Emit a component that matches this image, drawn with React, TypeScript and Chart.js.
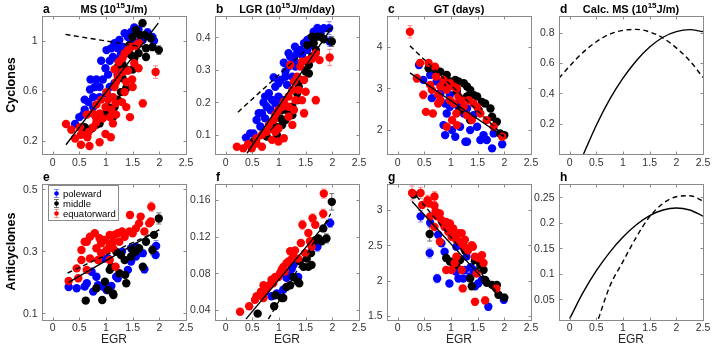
import React, { useEffect, useRef } from "react";
import { Chart, registerables } from "chart.js";
Chart.register(...registerables);

type P = number[];

// ---------- shared ticks ----------
const egrTicks = [0, 0.5, 1, 1.5, 2, 2.5];
const aYTicks = [0.2, 0.6, 1];
const bYTicks = [0.1, 0.2, 0.3, 0.4];
const cYTicks = [2, 3, 4];
const dYTicks = [0.2, 0.4, 0.6, 0.8];
const eYTicks = [0.1, 0.3, 0.5];
const fYTicks = [0.04, 0.08, 0.12, 0.16];
const gYTicks = [1.5, 2, 2.5, 3];
const hYTicks = [0.05, 0.1, 0.15, 0.2, 0.25];

const legendLabels = ["poleward", "middle", "equatorward"];

// ---------- panel a: MS cyclones ----------
const aBlue: P[] = [[0.5,0.39],[0.57,0.41],[0.42,0.335],[0.6,0.53],[0.7,0.61],[0.71,0.69],[0.82,0.69],[0.79,0.63],[0.88,0.63],[0.94,0.69],[0.91,0.84,0.02],[0.99,0.78],[1.04,0.73],[1.07,0.84],[1.13,0.87],[1.1,0.94],[1.16,0.98],[1.22,0.94],[1.25,1.005],[1.31,0.95],[1.35,1.06],[1.41,1.03],[1.47,1.07],[1.53,1.105],[1.61,1.09],[1.78,1.065,0.03],[1.87,1.03],[1.9,1.0,0.04],[0.88,0.55],[0.76,0.55],[0.67,0.51],[1.01,0.58],[1.16,0.66],[1.07,0.63],[1.22,0.73],[1.28,0.89],[1.38,0.9],[1.47,0.98],[1.62,0.99],[1.69,1.005],[1.01,0.925],[1.22,0.85],[0.76,0.47],[0.6,0.45]];
const aBlack: P[] = [[1.685,1.14,0.03],[1.56,1.085],[1.73,1.045],[1.84,1.02],[1.99,0.925,0.035],[1.87,0.95,0.03],[1.75,0.94],[1.75,0.87],[1.61,0.9],[1.53,0.86],[1.5,0.77],[1.38,0.77],[1.31,0.7],[1.38,0.62],[1.28,0.59],[1.22,0.53],[1.16,0.47],[1.07,0.41],[1.04,0.47],[1.13,0.39],[0.99,0.42],[0.82,0.33],[0.73,0.3],[0.6,0.31],[0.88,0.34],[1.22,0.79],[1.31,0.81],[1.47,0.885],[1.44,0.965],[1.64,1.045],[1.5,1.03],[0.66,0.28]];
const aRed: P[] = [[0.25,0.335],[0.35,0.29],[0.51,0.31],[0.53,0.25],[0.42,0.22],[0.53,0.17],[0.69,0.16],[0.65,0.23],[0.67,0.27],[0.88,0.19],[0.99,0.255],[1.09,0.23],[0.76,0.31],[0.82,0.35],[0.64,0.41],[0.75,0.42],[0.81,0.39],[0.88,0.42],[0.94,0.38],[0.99,0.47],[1.04,0.53],[1.13,0.55],[1.18,0.5],[1.1,0.45],[1.07,0.39],[1.13,0.34],[1.19,0.41],[1.16,0.63],[1.19,0.67],[1.16,0.77],[1.24,0.83],[1.31,0.86],[1.35,0.9],[1.41,0.925],[1.47,0.95],[1.56,0.96],[1.62,0.98],[1.31,0.75],[1.38,0.67],[1.35,0.59],[1.3,0.51],[1.38,0.47],[1.45,0.39,0.02],[1.5,0.63],[1.49,0.69],[1.69,0.5,0.03],[1.93,0.75,0.05],[1.61,0.78,0.025],[1.53,0.82],[1.41,0.76],[1.22,0.71],[1.01,0.59],[0.91,0.53],[0.82,0.49]];
const aSolidX = [0.25, 1.98];
const aSolidY = [0.17, 1.14];
const aDashX = [0.24, 1.98];
const aDashY = [1.05, 0.93];

// ---------- panel b: LGR cyclones ----------
const bBlue: P[] = [[0.38,0.092],[0.46,0.105],[0.52,0.105],[0.58,0.146],[0.62,0.167],[0.71,0.2],[0.74,0.218],[0.81,0.228],[0.9,0.277,0.01],[0.93,0.248],[0.99,0.259],[1.03,0.269],[1.09,0.322],[1.12,0.295],[1.18,0.31],[1.21,0.34],[1.28,0.33],[1.3,0.371],[1.34,0.351],[1.4,0.361],[1.47,0.382],[1.53,0.392],[1.59,0.397],[1.65,0.417],[1.72,0.428,0.012],[1.78,0.412],[1.84,0.428],[1.94,0.428,0.02],[1.95,0.387,0.015],[0.65,0.126],[0.74,0.151],[0.84,0.177],[0.93,0.197],[0.99,0.218],[1.06,0.208],[0.87,0.208],[0.77,0.187],[0.68,0.167],[1.15,0.254],[1.25,0.279],[1.31,0.31],[1.4,0.32],[1.43,0.346],[1.53,0.361],[1.62,0.376],[1.18,0.351],[1.12,0.279]];
const bBlack: P[] = [[0.52,0.08],[0.71,0.105],[0.96,0.1],[0.93,0.126],[1.06,0.131],[1.03,0.151],[1.12,0.146],[1.15,0.177],[1.25,0.187],[1.34,0.207],[1.34,0.228],[1.37,0.248],[1.4,0.269],[1.5,0.295],[1.56,0.289],[1.56,0.315],[1.62,0.341],[1.69,0.361],[1.65,0.382],[1.62,0.402],[1.72,0.402],[1.78,0.402,0.01],[1.84,0.394],[1.99,0.387,0.015],[1.53,0.376],[1.25,0.161],[1.06,0.177],[0.84,0.12],[0.77,0.095]];
const bRed: P[] = [[0.21,0.064],[0.33,0.059],[0.42,0.072],[0.49,0.059],[0.58,0.074],[0.68,0.064],[0.58,0.09],[0.68,0.1],[0.77,0.11],[0.87,0.085],[0.99,0.08],[1.09,0.09],[0.93,0.11],[0.81,0.131],[0.9,0.146],[0.99,0.12],[0.93,0.162],[0.99,0.177],[1.06,0.187],[1.09,0.202],[1.18,0.187],[1.18,0.218],[1.25,0.238],[1.25,0.131],[1.18,0.156],[1.28,0.177],[1.31,0.207],[1.28,0.264],[1.34,0.279],[1.4,0.31],[1.37,0.238],[1.47,0.269],[1.5,0.233],[1.43,0.207],[1.47,0.167,0.012],[1.69,0.207,0.012],[1.53,0.33],[1.62,0.335,0.012],[1.69,0.351],[1.76,0.33],[1.95,0.338,0.025],[1.43,0.325],[1.21,0.315]];
const bSolidX = [0.4, 2.0];
const bSolidY = [0.044, 0.433];
const bDashX = [0.23, 2.0];
const bDashY = [0.17, 0.435];

// ---------- panel c: GT cyclones ----------
const cBlue: P[] = [[0.4,3.56,0.08],[0.48,3.2],[0.61,3.32],[0.7,3.4],[0.73,3.16],[0.64,2.76],[0.8,2.88],[0.89,2.63],[0.92,2.39],[0.98,2.55],[0.86,2.11],[0.89,1.87],[1.02,1.99],[1.08,1.83],[1.17,2.07],[1.27,1.71],[1.3,1.71],[1.36,1.99],[1.49,2.07],[1.55,1.75],[1.61,1.87],[1.67,1.75],[1.77,1.55],[1.8,1.91],[1.96,1.65],[1.14,2.55],[1.24,2.39],[1.3,2.51],[1.42,2.35],[1.17,2.71],[0.98,2.84]];
const cBlack: P[] = [[0.58,3.48],[0.72,3.44],[0.8,3.4],[0.92,3.32],[0.98,3.16],[1.08,3.2],[1.14,3.16],[1.24,3.12],[1.3,3.04],[1.36,2.96],[1.42,2.84],[1.49,2.8],[1.58,2.67],[1.64,2.63],[1.74,2.51],[1.77,2.31],[1.86,2.19],[1.92,1.91],[2.0,1.87,0.05],[1.17,2.47],[1.36,2.23],[1.11,2.92],[0.86,3.12],[1.3,2.8],[1.52,2.47]];
const cRed: P[] = [[0.23,4.36,0.15],[0.42,3.61,0.08],[0.36,3.24,0.1],[0.48,2.84,0.1],[0.58,3.61],[0.53,2.43],[0.66,2.39],[0.7,3.52],[0.72,3.28],[0.64,2.96],[0.8,2.71],[0.76,2.63],[0.92,2.96],[0.98,3.12],[1.05,3.04],[1.11,3.0],[0.98,2.71],[1.05,2.63],[1.14,2.8],[1.2,2.71],[1.24,2.55],[1.1,2.39],[1.02,2.23],[1.11,2.11],[0.92,2.07],[1.3,2.35],[1.33,2.71],[1.42,2.63],[1.49,2.55],[1.55,2.39],[1.67,2.23],[1.8,2.07],[1.96,1.83,0.06],[1.39,2.23],[0.8,3.04],[0.86,3.2],[0.76,2.84],[0.61,3.08]];
const cSolidX = [0.23, 1.99];
const cSolidY = [3.37, 1.83];
const cDashX = [0.23, 1.99];
const cDashY = [4.02, 1.85];

// ---------- panel d: calc MS cyclones ----------
const dSolidX = [0.26, 0.5, 0.75, 1, 1.25, 1.5, 1.75, 2, 2.25, 2.5];
const dSolidY = [0, 0.19, 0.36, 0.5, 0.615, 0.705, 0.77, 0.807, 0.82, 0.807];
const dDashX = [-0.2, 0, 0.25, 0.5, 0.75, 1, 1.25, 1.5, 1.75, 2, 2.25, 2.5];
const dDashY = [0.5, 0.58, 0.67, 0.74, 0.79, 0.815, 0.822, 0.805, 0.765, 0.7, 0.615, 0.505];

// ---------- panel e: MS anticyclones ----------
const eBlue: P[] = [[0.3,0.185],[0.45,0.181],[0.6,0.186],[0.64,0.197],[0.76,0.17],[0.85,0.191],[0.82,0.218],[0.73,0.234],[0.94,0.186],[1.01,0.175],[1.1,0.188],[1.19,0.218],[1.22,0.213],[0.96,0.277],[1.04,0.277],[1.47,0.267],[1.56,0.283],[1.69,0.294],[1.72,0.242,0.012],[1.93,0.288],[1.94,0.317,0.018],[1.3,0.299],[1.47,0.31],[1.56,0.315],[1.41,0.24]];
const eBlack: P[] = [[0.62,0.141],[0.82,0.181],[0.93,0.143],[0.98,0.202],[1.04,0.175],[1.13,0.164],[1.14,0.159],[1.07,0.24],[1.1,0.25],[1.25,0.229],[1.35,0.272],[1.38,0.197],[1.36,0.224],[1.47,0.283],[1.5,0.304],[1.56,0.299],[1.62,0.31],[1.69,0.25],[1.75,0.331],[1.87,0.304,0.015],[1.9,0.353],[1.99,0.406,0.018],[1.19,0.299],[1.28,0.288]];
const eRed: P[] = [[0.3,0.204],[0.45,0.245],[0.48,0.213],[0.54,0.272],[0.54,0.304],[0.64,0.331],[0.7,0.277],[0.79,0.358],[0.82,0.31],[0.85,0.272],[0.88,0.342],[0.91,0.326],[0.98,0.337],[1.01,0.304],[1.07,0.353],[1.07,0.272],[1.13,0.331],[1.16,0.353],[1.13,0.31],[1.22,0.358],[1.25,0.331],[1.3,0.364],[1.35,0.347],[1.44,0.364],[1.45,0.417,0.01],[1.5,0.358],[1.56,0.374],[1.62,0.39],[1.65,0.412],[1.72,0.364],[1.81,0.39],[1.85,0.444,0.015],[1.84,0.396],[0.7,0.347],[0.6,0.331],[0.64,0.24],[0.91,0.294],[1.07,0.32],[1.18,0.25]];
const eSolidX = [0.3, 2.0];
const eSolidY = [0.2, 0.37];
const eDashX = [0.28, 2.0];
const eDashY = [0.23, 0.368];

// ---------- panel f: LGR anticyclones ----------
const fBlue: P[] = [[0.86,0.055],[0.96,0.058],[1.08,0.062],[1.14,0.075],[1.21,0.078],[1.27,0.089],[1.36,0.076],[1.72,0.109,0.005],[1.96,0.135,0.005],[1.24,0.085],[0.74,0.06]];
const fBlack: P[] = [[0.6,0.036],[0.91,0.044],[1.05,0.053],[1.08,0.053],[1.14,0.065],[1.21,0.067],[1.35,0.071],[1.38,0.069],[1.39,0.093],[1.46,0.087],[1.55,0.087],[1.61,0.089],[1.52,0.096],[1.6,0.102],[1.68,0.116],[1.74,0.118],[1.8,0.115],[1.83,0.129],[1.89,0.118,0.005],[1.99,0.158,0.009],[1.27,0.076],[0.93,0.056]];
const fRed: P[] = [[0.27,0.038],[0.44,0.044],[0.55,0.051],[0.58,0.055],[0.64,0.056],[0.66,0.06],[0.71,0.053],[0.74,0.061],[0.79,0.065],[0.82,0.067],[0.86,0.073],[0.89,0.069],[0.93,0.076],[1.02,0.08],[1.05,0.084],[1.08,0.087],[1.11,0.082],[1.14,0.091],[1.18,0.093],[1.21,0.104],[1.23,0.095],[1.27,0.098],[1.3,0.105],[1.36,0.096],[1.41,0.113],[1.44,0.133,0.005],[1.49,0.102],[1.55,0.124],[1.58,0.115],[1.63,0.14,0.005],[1.68,0.133],[1.61,0.109],[1.83,0.145,0.005],[1.84,0.167,0.005],[0.99,0.076],[0.71,0.067]];
const fSolidX = [0.38, 1.93];
const fSolidY = [0.03, 0.138];
const fDashX = [0.8, 1.97];
const fDashY = [0.03, 0.145];

// ---------- panel g: GT anticyclones ----------
const gBlue: P[] = [[0.43,2.91,0.08],[0.61,2.82],[0.6,2.39,0.07],[0.74,2.03,0.06],[0.76,2.65],[0.82,2.53],[0.97,1.96],[0.88,2.41],[1.1,2.48],[1.09,2.13],[1.14,2.03],[1.23,2.03],[1.26,2.15],[1.36,2.06],[1.37,2.19],[1.45,1.92],[1.51,1.96],[1.58,2.01],[1.7,1.63,0.05],[1.99,1.73,0.05],[1.29,2.34],[1.42,2.15]];
const gBlack: P[] = [[0.3,3.22],[0.6,2.66,0.1],[0.91,2.32],[0.98,2.27],[1.04,2.25],[1.1,2.22],[1.17,2.29],[1.26,2.43],[1.36,2.03],[1.39,1.92],[1.45,2.29],[1.55,2.22],[1.64,2.01],[1.67,1.97],[1.77,1.94],[1.83,1.92],[1.86,1.94],[1.89,1.8],[2.0,1.76,0.05],[1.61,2.15]];
const gRed: P[] = [[0.27,3.24,0.1],[0.43,3.24,0.08],[0.46,3.07],[0.56,3.14,0.07],[0.59,3.09],[0.61,2.91],[0.69,3.19,0.07],[0.69,3.06],[0.71,2.98],[0.74,2.91],[0.79,2.95],[0.82,2.86],[0.85,2.81],[0.88,2.76],[0.91,2.83],[0.95,2.69],[0.98,2.81],[1.01,2.62],[1.04,2.74],[1.07,2.65],[1.1,2.58],[1.14,2.67],[1.17,2.55],[1.2,2.67],[1.23,2.5],[1.26,2.58],[1.29,2.46],[1.32,2.43],[1.39,2.5],[1.41,2.48],[1.45,2.34],[1.51,2.32],[1.58,2.36],[1.61,2.25],[1.48,2.1],[1.07,2.25],[0.91,2.15],[1.01,2.15],[1.22,1.89],[1.45,1.7,0.05],[1.64,1.72,0.05],[1.85,1.89],[1.1,2.34],[1.2,2.15],[0.79,2.55],[0.69,2.76]];
const gSolidX = [0.27, 1.97];
const gSolidY = [3.12, 1.72];
const gDashX = [0.35, 1.9];
const gDashY = [3.2, 1.8];

// ---------- panel h: calc MS anticyclones ----------
const hSolidX = [0, 0.25, 0.5, 0.75, 1, 1.25, 1.5, 1.75, 2, 2.25, 2.5];
const hSolidY = [0.012, 0.063, 0.106, 0.142, 0.172, 0.196, 0.214, 0.225, 0.229, 0.225, 0.213];
const hDashX = [0.54, 0.75, 1, 1.25, 1.5, 1.75, 2, 2.25, 2.5];
const hDashY = [0.012, 0.075, 0.124, 0.172, 0.212, 0.238, 0.251, 0.253, 0.243];

// ---------- rendering ----------
const W = 712, H = 349;
const FONT = '"Liberation Sans", Arial, Helvetica, sans-serif';
const BLUE = "#0000ff", BLACK = "#000000", RED = "#ff0000";

const zip = (xs: number[], ys: number[]) => xs.map((x, i) => ({ x, y: ys[i] }));

type Panel = {
  letter: string; L: number; T: number; R: number; B: number;
  xr: number[]; yr: number[]; yTicks: number[];
  title?: any[]; row?: string; xlabel?: boolean; legend?: boolean;
  series: { pts: P[]; color: string; err: string }[];
  lines: { x: number[]; y: number[]; dash: boolean }[];
};

const top = { T: 16, B: 154 };
const bot = { T: 183.5, B: 319.5 };
const cols = [42, 215, 387, 559];
const PW = 144;

const sets = (b: P[], k: P[], r: P[]) => [
  { pts: b, color: BLUE, err: "rgba(60,60,255,0.6)" },
  { pts: k, color: BLACK, err: "rgba(60,60,60,0.7)" },
  { pts: r, color: RED, err: "rgba(255,70,70,0.6)" },
];

const panels: Panel[] = [
  { letter: "a", L: cols[0], R: cols[0] + PW, ...top, xr: [-0.2, 2.5], yr: [0.096, 1.197], yTicks: aYTicks,
    title: [["MS (10"], ["15", 1], ["J/m)"]], row: "Cyclones",
    series: sets(aBlue, aBlack, aRed),
    lines: [{ x: aSolidX, y: aSolidY, dash: false }, { x: aDashX, y: aDashY, dash: true }] },
  { letter: "b", L: cols[1], R: cols[1] + PW, ...top, xr: [-0.2, 2.5], yr: [0.0417, 0.4654], yTicks: bYTicks,
    title: [["LGR (10"], ["15", 1], ["J/m/day)"]],
    series: sets(bBlue, bBlack, bRed),
    lines: [{ x: bSolidX, y: bSolidY, dash: false }, { x: bDashX, y: bDashY, dash: true }] },
  { letter: "c", L: cols[2], R: cols[2] + PW, ...top, xr: [-0.2, 2.5], yr: [1.414, 4.74], yTicks: cYTicks,
    title: [["GT (days)"]],
    series: sets(cBlue, cBlack, cRed),
    lines: [{ x: cSolidX, y: cSolidY, dash: false }, { x: cDashX, y: cDashY, dash: true }] },
  { letter: "d", L: cols[3], R: cols[3] + PW, ...top, xr: [-0.2, 2.5], yr: [0, 0.91], yTicks: dYTicks,
    title: [["Calc. MS (10"], ["15", 1], ["J/m)"]],
    series: [],
    lines: [{ x: dSolidX, y: dSolidY, dash: false }, { x: dDashX, y: dDashY, dash: true }] },
  { letter: "e", L: cols[0], R: cols[0] + PW, ...bot, xr: [-0.2, 2.5], yr: [0.08, 0.5187], yTicks: eYTicks,
    row: "Anticyclones", xlabel: true, legend: true,
    series: sets(eBlue, eBlack, eRed),
    lines: [{ x: eSolidX, y: eSolidY, dash: false }, { x: eDashX, y: eDashY, dash: true }] },
  { letter: "f", L: cols[1], R: cols[1] + PW, ...bot, xr: [-0.2, 2.5], yr: [0.0296, 0.178], yTicks: fYTicks,
    xlabel: true, series: sets(fBlue, fBlack, fRed),
    lines: [{ x: fSolidX, y: fSolidY, dash: false }, { x: fDashX, y: fDashY, dash: true }] },
  { letter: "g", L: cols[2], R: cols[2] + PW, ...bot, xr: [-0.2, 2.5], yr: [1.45, 3.375], yTicks: gYTicks,
    xlabel: true, series: sets(gBlue, gBlack, gRed),
    lines: [{ x: gSolidX, y: gSolidY, dash: false }, { x: gDashX, y: gDashY, dash: true }] },
  { letter: "h", L: cols[3], R: cols[3] + PW, ...bot, xr: [-0.2, 2.5], yr: [0.0104, 0.277], yTicks: hYTicks,
    xlabel: true, series: [],
    lines: [{ x: hSolidX, y: hSolidY, dash: false }, { x: hDashX, y: hDashY, dash: true }] },
];

function drawErrMark(ctx: CanvasRenderingContext2D, x: number, y1: number, y2: number, color: string) {
  ctx.strokeStyle = color;
  ctx.lineWidth = 1;
  ctx.beginPath();
  ctx.moveTo(x, y1); ctx.lineTo(x, y2);
  ctx.moveTo(x - 2.5, y1); ctx.lineTo(x + 2.5, y1);
  ctx.moveTo(x - 2.5, y2); ctx.lineTo(x + 2.5, y2);
  ctx.stroke();
}

function decor(p: Panel) {
  return {
    id: "decor" + p.letter,
    beforeDatasetsDraw(chart: any) {
      const ctx = chart.ctx as CanvasRenderingContext2D;
      const xs = chart.scales.x, ys = chart.scales.y;
      const a = chart.chartArea;
      ctx.save();
      ctx.beginPath();
      ctx.rect(a.left, a.top, a.right - a.left, a.bottom - a.top);
      ctx.clip();
      for (const s of p.series) {
        for (const pt of s.pts) {
          if (pt.length > 2 && pt[2]) {
            const px = xs.getPixelForValue(pt[0]);
            drawErrMark(ctx, px, ys.getPixelForValue(pt[1] - pt[2]), ys.getPixelForValue(pt[1] + pt[2]), s.err);
          }
        }
      }
      ctx.restore();
    },
    afterDraw(chart: any) {
      const ctx = chart.ctx as CanvasRenderingContext2D;
      const xs = chart.scales.x, ys = chart.scales.y;
      const L = Math.round(p.L) + 0.5, R = Math.round(p.R) + 0.5;
      const T = Math.round(p.T) + 0.5, B = Math.round(p.B) + 0.5;
      ctx.save();
      // frame
      ctx.strokeStyle = "#8a8a8a";
      ctx.lineWidth = 1;
      ctx.strokeRect(L, T, R - L, B - T);
      // ticks
      ctx.beginPath();
      for (const v of egrTicks) {
        const px = Math.round(xs.getPixelForValue(v)) + 0.5;
        ctx.moveTo(px, B); ctx.lineTo(px, B - 3);
        ctx.moveTo(px, T); ctx.lineTo(px, T + 3);
      }
      for (const v of p.yTicks) {
        const py = Math.round(ys.getPixelForValue(v)) + 0.5;
        ctx.moveTo(L, py); ctx.lineTo(L + 3, py);
        ctx.moveTo(R, py); ctx.lineTo(R - 3, py);
      }
      ctx.stroke();
      // tick labels
      ctx.fillStyle = "#333333";
      ctx.font = `10.5px ${FONT}`;
      ctx.textAlign = "center";
      ctx.textBaseline = "top";
      for (const v of egrTicks) ctx.fillText(String(v), xs.getPixelForValue(v), p.B + 3.5);
      ctx.textAlign = "right";
      ctx.textBaseline = "middle";
      for (const v of p.yTicks) ctx.fillText(String(v), p.L - 4.5, ys.getPixelForValue(v) + 0.5);
      // panel letter
      ctx.fillStyle = "#000";
      ctx.font = `bold 12px ${FONT}`;
      ctx.textAlign = "left";
      ctx.textBaseline = "alphabetic";
      ctx.fillText(p.letter, p.L + 1, p.T - 3);
      // title
      if (p.title) {
        let w = 0;
        for (const part of p.title) {
          ctx.font = part[1] ? `bold 8px ${FONT}` : `bold 11px ${FONT}`;
          w += ctx.measureText(part[0]).width;
        }
        let x = (p.L + p.R) / 2 - w / 2;
        for (const part of p.title) {
          ctx.font = part[1] ? `bold 8px ${FONT}` : `bold 11px ${FONT}`;
          ctx.fillText(part[0], x, part[1] ? p.T - 8 : p.T - 3);
          x += ctx.measureText(part[0]).width;
        }
      }
      // row label
      if (p.row) {
        ctx.save();
        ctx.translate(15, (p.T + p.B) / 2);
        ctx.rotate(-Math.PI / 2);
        ctx.font = `bold 12.5px ${FONT}`;
        ctx.textAlign = "center";
        ctx.textBaseline = "alphabetic";
        ctx.fillText(p.row, 0, 0);
        ctx.restore();
      }
      // x label
      if (p.xlabel) {
        ctx.fillStyle = "#262626";
        ctx.font = `12px ${FONT}`;
        ctx.textAlign = "center";
        ctx.textBaseline = "alphabetic";
        ctx.fillText("EGR", (p.L + p.R) / 2, p.B + 23.5);
      }
      // legend
      if (p.legend) {
        const lx = 48.5, ly = 185.5, lw = 70, lh = 35;
        ctx.fillStyle = "#ffffff";
        ctx.fillRect(lx, ly, lw, lh);
        ctx.strokeStyle = "#8a8a8a";
        ctx.strokeRect(lx, ly, lw, lh);
        const cols2 = [BLUE, BLACK, RED];
        const errs = ["rgba(60,60,255,0.6)", "rgba(60,60,60,0.7)", "rgba(255,70,70,0.6)"];
        legendLabels.forEach((lab, i) => {
          const cy = 193.5 + i * 10;
          drawErrMark(ctx, 56.5, cy - 4, cy + 4, errs[i]);
          ctx.fillStyle = cols2[i];
          ctx.beginPath();
          ctx.arc(56.5, cy, 2.3, 0, Math.PI * 2);
          ctx.fill();
          ctx.fillStyle = "#000";
          ctx.font = `9.5px ${FONT}`;
          ctx.textAlign = "left";
          ctx.textBaseline = "middle";
          ctx.fillText(lab, 63, cy + 0.5);
        });
      }
      ctx.restore();
    },
  };
}

function PanelChart({ p }: { p: Panel }) {
  const ref = useRef<HTMLCanvasElement>(null);
  useEffect(() => {
    if (!ref.current) return;
    const datasets: any[] = [];
    p.lines.forEach((ln) => {
      datasets.push({
        type: "line",
        data: zip(ln.x, ln.y),
        borderColor: "#000",
        borderWidth: 1.4,
        borderDash: ln.dash ? [5, 3.5] : [],
        pointRadius: 0,
        showLine: true,
        fill: false,
        tension: ln.x.length > 2 ? 0.4 : 0,
        cubicInterpolationMode: "monotone",
        order: 0,
      });
    });
    p.series.forEach((s, i) => {
      datasets.push({
        type: "scatter",
        data: s.pts.map((q) => ({ x: q[0], y: q[1] })),
        backgroundColor: s.color,
        borderColor: s.color,
        borderWidth: 0,
        pointRadius: 4.2,
        order: 3 - i,
      });
    });
    const chart = new Chart(ref.current, {
      type: "scatter",
      data: { datasets },
      options: {
        responsive: false,
        animation: false,
        devicePixelRatio: 1,
        events: [],
        layout: { padding: { left: p.L, top: p.T, right: W - p.R, bottom: H - p.B } },
        plugins: { legend: { display: false }, tooltip: { enabled: false } },
        scales: {
          x: { type: "linear", display: false, min: p.xr[0], max: p.xr[1] },
          y: { type: "linear", display: false, min: p.yr[0], max: p.yr[1] },
        },
      },
      plugins: [decor(p)],
    } as any);
    return () => chart.destroy();
  }, [p]);
  return (
    <canvas
      ref={ref}
      width={W}
      height={H}
      style={{ position: "absolute", left: 0, top: 0, width: W, height: H }}
    />
  );
}

export default function App() {
  return (
    <div style={{ position: "fixed", left: 0, top: 0, width: W, height: H, background: "#fff", overflow: "hidden" }}>
      {panels.map((p) => (
        <PanelChart key={p.letter} p={p} />
      ))}
    </div>
  );
}
